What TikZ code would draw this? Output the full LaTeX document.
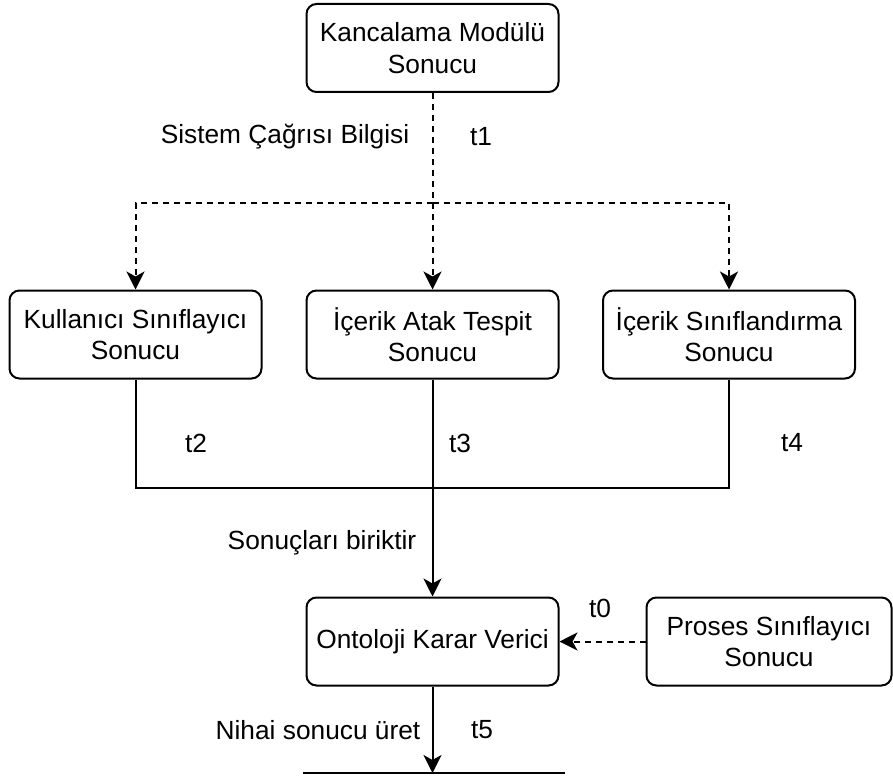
\documentclass[tikz,border=0pt]{standalone}
\usepackage{fontspec}
\setmainfont{Liberation Sans}
\usetikzlibrary{arrows.meta}
\begin{document}
\begin{tikzpicture}[x=1pt,y=-1pt,
  every node/.style={font=\fontsize{26.3}{31.5}\selectfont, inner sep=0pt},
  box/.style={draw, line width=2pt, rounded corners=10pt, align=center,
              minimum width=252pt, minimum height=88pt},
  wire/.style={line width=2pt},
  dsh/.style={wire, dash pattern=on 6pt off 5pt},
  tip/.style={-{Stealth[length=18pt,width=18pt,inset=5pt]}},
  lbl/.style={anchor=center}]
  \useasboundingbox (0,0) rectangle (893,778);

  % boxes
  \node[box] (top) at (432.5,48) {Kancalama Modülü\\Sonucu};
  \node[box] (usr) at (135.5,334.5) {Kullanıcı Sınıflayıcı\\Sonucu};
  \node[box] (atk) at (432.5,334.5) {İçerik Atak Tespit\\Sonucu};
  \node[box] (cls) at (729,334.5) {İçerik Sınıflandırma\\Sonucu};
  \node[box] (ont) at (432.5,641.5) {Ontoloji Karar Verici};
  \node[box, minimum width=245pt] (pro) at (769,641.5) {Proses Sınıflayıcı\\Sonucu};

  % junction points
  \coordinate (split) at (432.5,203);
  \coordinate (join) at (432.5,488);
  \coordinate (out) at (432.5,773);
  \coordinate (outL) at (303,773);
  \coordinate (outR) at (565,773);

  % dashed distribution of the system-call information
  \draw[dsh, tip] (top) -- (atk);
  \draw[dsh, tip] (split) -| (usr.north);
  \draw[dsh, tip] (split) -| (cls.north);

  % collected results
  \draw[wire] (usr.south) |- (join) -| (cls.south);
  \draw[wire] (atk) -- (join);
  \draw[wire, tip] (join) -- (ont);

  % process classifier input
  \draw[dsh, tip] (pro) -- (ont);

  % final output
  \draw[wire, tip] (ont) -- (out);
  \draw[wire] (outL) -- (outR);

  % labels
  \node[lbl] (l1) at (285,137) {Sistem Çağrısı Bilgisi};
  \node[lbl] (t1) at (481,137) {t1};
  \node[lbl] (t2) at (196,443) {t2};
  \node[lbl] (t3) at (460,443) {t3};
  \node[lbl] (t4) at (792,443) {t4};
  \node[lbl] (l2) at (322,543) {Sonuçları biriktir};
  \node[lbl] (t0) at (600,608) {t0};
  \node[lbl] (l3) at (318,730) {Nihai sonucu üret};
  \node[lbl] (t5) at (482,730) {t5};
\end{tikzpicture}
\end{document}
